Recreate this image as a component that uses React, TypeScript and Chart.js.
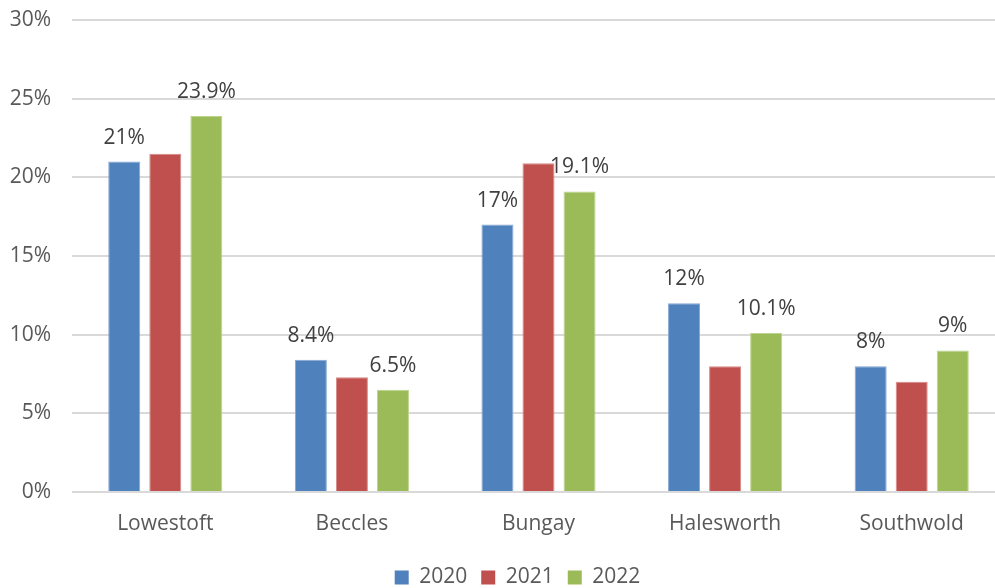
import React, { useEffect, useRef } from "react";
import { Chart, registerables } from "chart.js";

Chart.register(...registerables);

const categories = ["Lowestoft", "Beccles", "Bungay", "Halesworth", "Southwold"];
const seriesNames = ["2020", "2021", "2022"];
const values2020 = [21, 8.4, 17, 12, 8];
const values2021 = [21.5, 7.3, 20.9, 8, 7];
const values2022 = [23.9, 6.5, 19.1, 10.1, 9];
const seriesColors = ["#4F81BD", "#C0504D", "#9BBB59"];
const seriesEdgeColors = ["#86A7D4", "#D68886", "#BDD38E"];
const labelledSeries = [0, 2];
const yTicks = [0, 5, 10, 15, 20, 25, 30];

const FONT = "'Open Sans', sans-serif";
const FS = 21;

const dataLabelPlugin = {
  id: "dataLabels",
  afterDatasetsDraw(chart: any) {
    const ctx = chart.ctx;
    ctx.save();
    ctx.font = `${FS}px ${FONT}`;
    ctx.fillStyle = "#404040";
    ctx.textAlign = "center";
    ctx.textBaseline = "alphabetic";
    labelledSeries.forEach((di) => {
      const meta = chart.getDatasetMeta(di);
      const data = chart.data.datasets[di].data as number[];
      meta.data.forEach((bar: any, i: number) => {
        ctx.fillText(`${data[i]}%`, bar.x, bar.y - 18);
      });
    });
    ctx.restore();
  },
};

const legendShiftPlugin = {
  id: "legendShift",
  afterLayout(chart: any) {
    if (chart.legend) {
      chart.legend.left += 15;
      chart.legend.right += 15;
    }
  },
};

export default function App() {
  const ref = useRef<HTMLCanvasElement | null>(null);

  useEffect(() => {
    document.documentElement.style.overflow = "hidden";
    document.body.style.overflow = "hidden";
    const canvas = ref.current!;
    const chart = new Chart(canvas, {
      type: "bar",
      data: {
        labels: categories,
        datasets: [values2020, values2021, values2022].map((vals, i) => ({
          label: seriesNames[i],
          data: vals,
          backgroundColor: seriesColors[i],
          borderColor: seriesEdgeColors[i],
          borderWidth: 1,
          categoryPercentage: 0.66,
          barPercentage: 0.78,
        })),
      },
      options: {
        animation: false,
        responsive: false,
        devicePixelRatio: 1,
        layout: { padding: { top: 20, right: 35, left: 0, bottom: 22 } },
        plugins: {
          tooltip: { enabled: false },
          legend: {
            position: "bottom",
            labels: {
              boxWidth: 14,
              boxHeight: 14,
              padding: 14,
              color: "#595959",
              font: { family: FONT, size: FS, lineHeight: 1.2 },
              generateLabels: (chart: any) =>
                seriesNames.map((name, i) => ({
                  text: name,
                  fillStyle: seriesColors[i],
                  strokeStyle: seriesColors[i],
                  lineWidth: 0,
                  fontColor: "#595959",
                  hidden: false,
                  datasetIndex: i,
                })),
            },
          },
        },
        scales: {
          x: {
            grid: { display: false, drawTicks: false },
            border: { display: false },
            ticks: {
              color: "#595959",
              font: { family: FONT, size: FS },
              padding: 19,
            },
            afterFit(scale: any) {
              scale.height = 61;
            },
          },
          y: {
            min: 0,
            max: 30,
            afterBuildTicks(scale: any) {
              scale.ticks = yTicks.map((v) => ({ value: v }));
            },
            grid: { color: "#d9d9d9", lineWidth: 2, drawTicks: false },
            border: { display: false },
            ticks: {
              color: "#595959",
              font: { family: FONT, size: FS },
              padding: 21,
              callback: (v: any) => `${v}%`,
            },
            afterFit(scale: any) {
              scale.width = 72;
              scale.paddingTop = 0;
              scale.paddingBottom = 0;
            },
          },
        },
      },
      plugins: [dataLabelPlugin, legendShiftPlugin],
    });
    return () => chart.destroy();
  }, []);

  return (
    <div style={{ position: "absolute", left: 0, top: 0, width: 1040, height: 620 }}>
      <canvas ref={ref} width={1040} height={620} />
    </div>
  );
}
